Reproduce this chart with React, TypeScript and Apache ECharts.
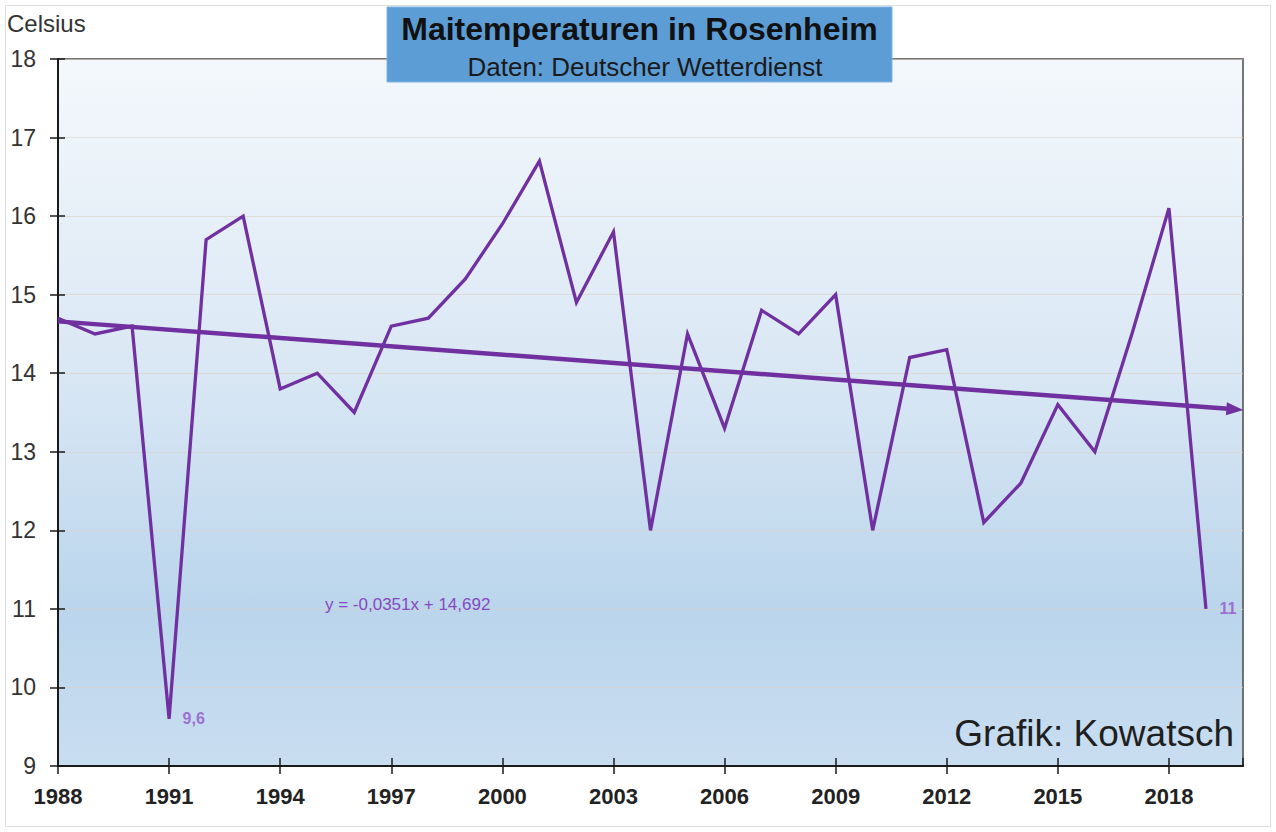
import React, { useEffect, useRef } from "react";
import * as echarts from "echarts";

// ---- data ----
const years = [
  1988, 1989, 1990, 1991, 1992, 1993, 1994, 1995, 1996, 1997, 1998, 1999, 2000, 2001, 2002, 2003,
  2004, 2005, 2006, 2007, 2008, 2009, 2010, 2011, 2012, 2013, 2014, 2015, 2016, 2017, 2018, 2019,
];
const temps = [
  14.7, 14.5, 14.6, 9.6, 15.7, 16.0, 13.8, 14.0, 13.5, 14.6, 14.7, 15.2, 15.9, 16.7, 14.9, 15.8,
  12.0, 14.5, 13.3, 14.8, 14.5, 15.0, 12.0, 14.2, 14.3, 12.1, 12.6, 13.6, 13.0, 14.5, 16.1, 11.0,
];
const labelledYears = [1991, 2019];
const trendLine = [
  [1988, 14.66],
  [2019.78, 13.54],
];
const trendEquation = "y = -0,0351x + 14,692";
const yMin = 9;
const yMax = 18;
const xStartYear = 1988;
const xEndYear = 2020;
const xTickStep = 3;

const title = "Maitemperaturen in Rosenheim";
const subtitle = "Daten: Deutscher Wetterdienst";
const yUnit = "Celsius";
const credit = "Grafik: Kowatsch";

const FONT = "'Liberation Sans', Arial, Helvetica, sans-serif";
const PURPLE = "#7030a0";

export default function App() {
  const ref = useRef<HTMLDivElement>(null);

  useEffect(() => {
    if (!ref.current) return;
    const chart = echarts.init(ref.current, undefined, { renderer: "svg" });

    const lineData = years.map((y, i) => [y - xStartYear, temps[i]]);
    const labelData = labelledYears.map((y) => {
      const i = years.indexOf(y);
      return [y - xStartYear, temps[i]];
    });
    const xMax = xEndYear - xStartYear;

    const commonY = { type: "value", min: yMin, max: yMax, interval: 1 };
    const commonX = { type: "value", min: 0, max: xMax, interval: xTickStep };

    chart.setOption({
      animation: false,
      backgroundColor: "#ffffff",
      grid: {
        left: 58,
        right: 33,
        top: 59,
        bottom: 66,
        show: true,
        borderColor: "#4a4a4a",
        borderWidth: 1.5,
        backgroundColor: new echarts.graphic.LinearGradient(0, 0, 0, 1, [
          { offset: 0, color: "#f4f8fc" },
          { offset: 0.45, color: "#d9e7f4" },
          { offset: 0.78, color: "#bad5ec" },
          { offset: 1, color: "#c9ddf0" },
        ]),
      },
      xAxis: [
        {
          ...commonX,
          position: "bottom",
          axisLine: { show: true, lineStyle: { color: "#1a1a1a", width: 2 } },
          axisTick: { show: true, length: 8, lineStyle: { color: "#1a1a1a", width: 1.5 } },
          splitLine: { show: false },
          axisLabel: {
            show: true,
            margin: 19,
            fontSize: 22,
            fontWeight: "bold",
            fontFamily: FONT,
            color: "#222",
            showMaxLabel: false,
            formatter: (v: number) => (v + xStartYear >= xEndYear ? "" : String(v + xStartYear)),
          },
        },
        {
          ...commonX,
          position: "bottom",
          axisLine: { show: false },
          axisTick: { show: true, inside: true, length: 8, lineStyle: { color: "#1a1a1a", width: 1.5 } },
          splitLine: { show: false },
          axisLabel: { show: false },
        },
      ],
      yAxis: [
        {
          ...commonY,
          position: "left",
          axisLine: { show: true, lineStyle: { color: "#1a1a1a", width: 2 } },
          axisTick: { show: true, length: 8, lineStyle: { color: "#1a1a1a", width: 1.5 } },
          splitLine: { show: true, lineStyle: { color: "rgba(220,208,196,0.6)", width: 1 } },
          axisLabel: { show: true, margin: 22, fontSize: 23, fontFamily: FONT, color: "#333" },
        },
        {
          ...commonY,
          position: "left",
          axisLine: { show: false },
          axisTick: { show: true, inside: true, length: 7, lineStyle: { color: "#1a1a1a", width: 1.5 } },
          splitLine: { show: false },
          axisLabel: { show: false },
        },
      ],
      series: [
        {
          type: "line",
          data: lineData,
          xAxisIndex: 0,
          yAxisIndex: 0,
          symbol: "none",
          lineStyle: { color: PURPLE, width: 3.3, join: "miter" },
          z: 3,
          markLine: {
            silent: true,
            symbol: ["none", "triangle"],
            symbolSize: [13, 17],
            label: { show: false },
            lineStyle: { color: PURPLE, width: 4.5, type: "solid" },
            itemStyle: { color: PURPLE },
            data: [
              [
                { coord: [trendLine[0][0] - xStartYear, trendLine[0][1]] },
                { coord: [trendLine[1][0] - xStartYear, trendLine[1][1]] },
              ],
            ],
          },
        },
        {
          type: "scatter",
          data: labelData,
          xAxisIndex: 0,
          yAxisIndex: 0,
          symbolSize: 1,
          itemStyle: { color: "rgba(0,0,0,0)" },
          label: {
            show: true,
            position: "right",
            distance: 13,
            fontSize: 16,
            fontWeight: 600,
            fontFamily: FONT,
            color: "#9352c9",
            formatter: (p: any) => String(p.value[1]).replace(".", ","),
          },
          z: 5,
        },
      ],
      graphic: [
        {
          type: "rect",
          z: 0,
          silent: true,
          shape: { x: 5.5, y: 5.5, width: 1265, height: 821 },
          style: { fill: "none", stroke: "#dcdcdc", lineWidth: 1 },
        },
        {
          type: "rect",
          z: 100,
          shape: { x: 387, y: 7, width: 505, height: 75 },
          style: { fill: "#5d9dd6", stroke: "#7fb2e0", lineWidth: 1 },
        },
        {
          type: "text",
          z: 101,
          x: 639.5,
          y: 29,
          style: {
            text: title,
            font: `bold 32px ${FONT}`,
            fill: "#111",
            align: "center",
            verticalAlign: "middle",
            textAlign: "center",
            textVerticalAlign: "middle",
          },
        },
        {
          type: "text",
          z: 101,
          x: 645,
          y: 67,
          style: {
            text: subtitle,
            font: `26px ${FONT}`,
            fill: "#1a1a1a",
            align: "center",
            verticalAlign: "middle",
            textAlign: "center",
            textVerticalAlign: "middle",
          },
        },
        {
          type: "text",
          z: 101,
          x: 7,
          y: 23,
          style: {
            text: yUnit,
            font: `24px ${FONT}`,
            fill: "#333",
            align: "left",
            verticalAlign: "middle",
            textAlign: "left",
            textVerticalAlign: "middle",
          },
        },
        {
          type: "text",
          z: 101,
          x: 1234,
          y: 733,
          style: {
            text: credit,
            font: `37px ${FONT}`,
            fill: "#1f1f1f",
            align: "right",
            verticalAlign: "middle",
            textAlign: "right",
            textVerticalAlign: "middle",
          },
        },
        {
          type: "text",
          z: 101,
          x: 325,
          y: 604,
          style: {
            text: trendEquation,
            font: `17px ${FONT}`,
            fill: "#8649c0",
            align: "left",
            verticalAlign: "middle",
            textAlign: "left",
            textVerticalAlign: "middle",
          },
        },
      ],
    });

    return () => chart.dispose();
  }, []);

  return (
    <div
      ref={ref}
      style={{ position: "absolute", left: 0, top: 0, width: 1276, height: 832, background: "#fff" }}
    />
  );
}
